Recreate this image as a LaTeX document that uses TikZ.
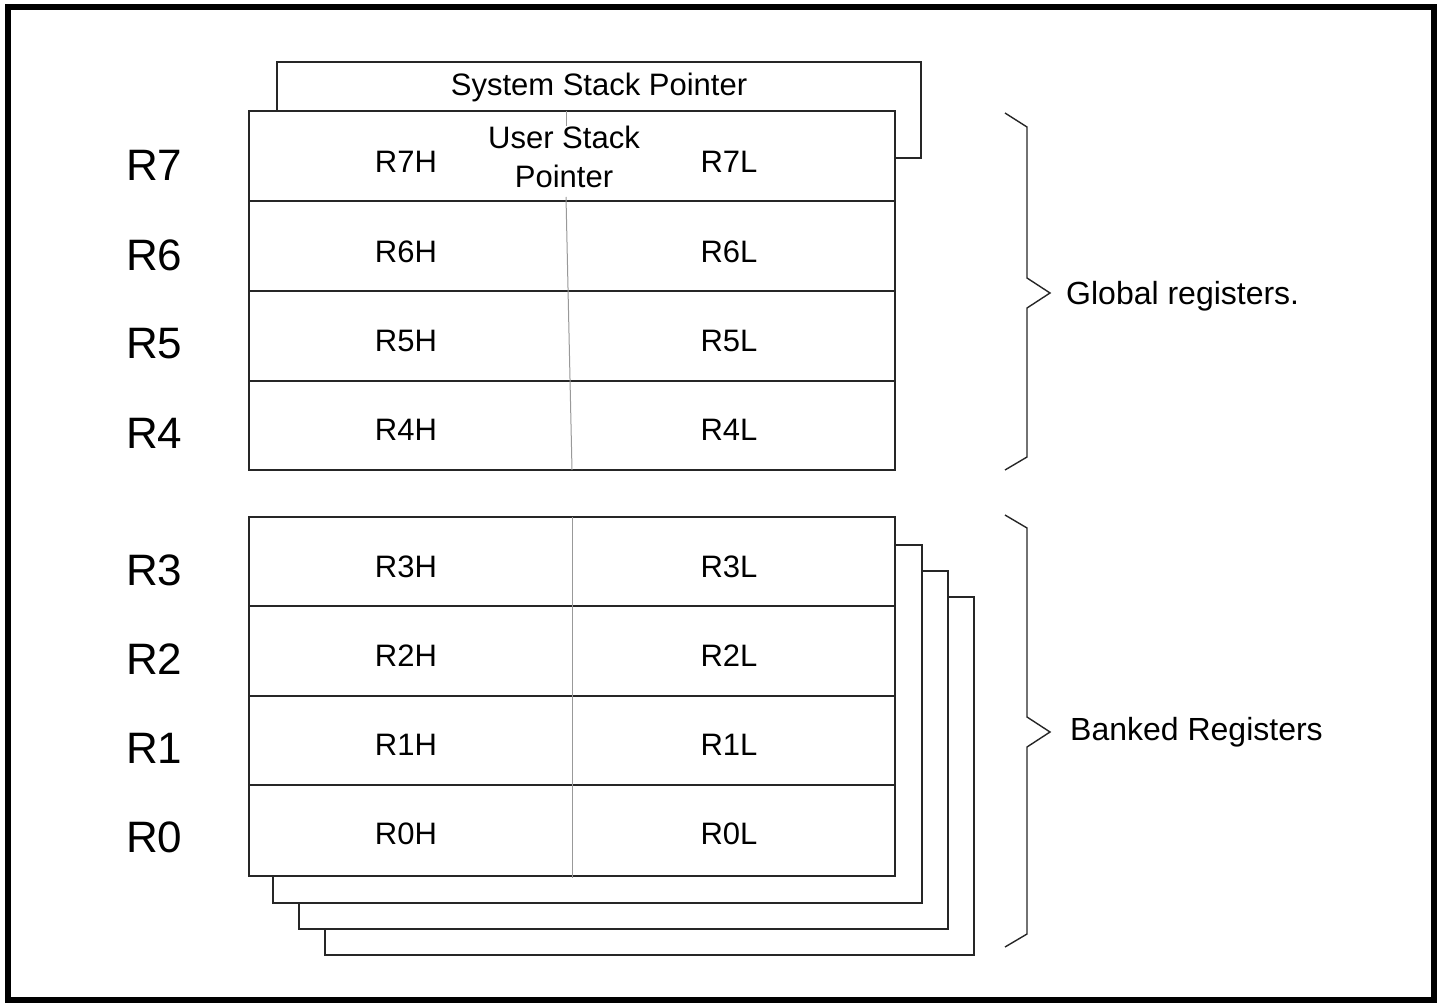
\documentclass[tikz,border=0pt]{standalone}
\usepackage{fontspec}
\setmainfont{Liberation Sans}
\begin{document}
\begin{tikzpicture}[x=1pt,y=-1pt,
  box/.style={draw=black!85,line width=1.6pt,fill=white},
  rowline/.style={draw=black!85,line width=1.6pt},
  divider/.style={draw=black!40,line width=1pt},
  reglbl/.style={font=\fontsize{44}{48}\selectfont,anchor=west,inner sep=0pt},
  cell/.style={font=\fontsize{31}{34}\selectfont,inner sep=0pt},
  side/.style={font=\fontsize{32}{36}\selectfont,anchor=west,inner sep=0pt},
  brace/.style={draw=black!85,line width=1.4pt,line join=miter}]
\useasboundingbox (0,0) rectangle (1445,1003);
\draw[line width=6pt] (8,7) rectangle (1433.5,1000);

% system stack pointer (behind)
\draw[box] (277,62) rectangle (921,158);
\node[cell] (ssp) at (599,87) {System Stack Pointer};

% global registers block
\draw[box] (249,111) rectangle (895,470);
\foreach \y in {201,291,381} \draw[rowline] (249,\y) -- (895,\y);
\draw[divider] (566,111) -- (566,126);
\draw[divider] (566,197) -- (572,470);
\node[cell] (usp1) at (564,137) {User Stack};
\node[cell] (usp2) at (564,176) {Pointer};

% banked registers
\draw[box] (325,597) rectangle (974,955);
\draw[box] (299,571) rectangle (948,929);
\draw[box] (273,545) rectangle (922,903);
\draw[box] (249,517) rectangle (895,876);
\foreach \y in {606,696,785} \draw[rowline] (249,\y) -- (895,\y);
\draw[divider] (572,517) -- (572,878);

% labels
\foreach \n/\y in {7/162,6/252,5/341,4/430,3/567,2/656,1/745,0/834}{
  \node[reglbl] (R\n) at (126,\y+3) {R\n};
  \node[cell] (R\n H) at (406,\y) {R\n H};
  \node[cell] (R\n L) at (729,\y) {R\n L};
}

% braces
\draw[brace] (1005,113) -- (1027,127) -- (1027,278) -- (1050,293) -- (1027,308) -- (1027,457) -- (1005,470);
\draw[brace] (1005,515) -- (1027,528) -- (1027,717) -- (1050,732) -- (1027,747) -- (1027,934) -- (1005,947);
\node[side] (glob) at (1066,296) {Global registers.};
\node[side] (bank) at (1070,732) {Banked Registers};
\end{tikzpicture}
\end{document}
